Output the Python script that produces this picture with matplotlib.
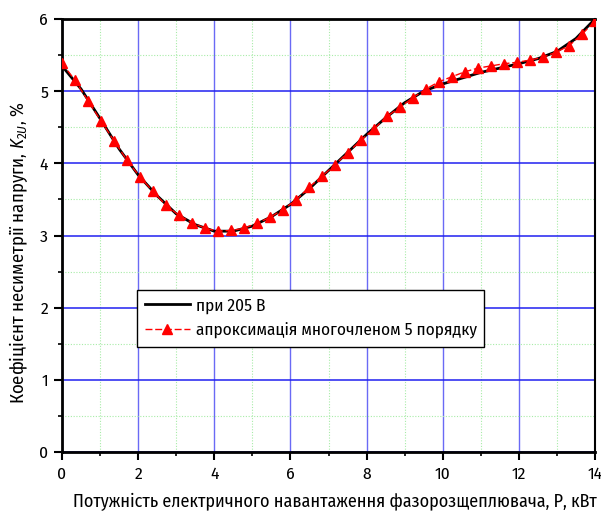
import matplotlib
matplotlib.use("Agg")
import matplotlib.pyplot as plt
from matplotlib.ticker import MultipleLocator

# Measured curve at 205 V
p_meas = [0.0, 0.5, 1.0, 1.5, 2.0, 2.5, 3.0, 3.5, 4.0, 4.5, 5.0, 5.5, 6.0, 6.5,
          7.0, 7.5, 8.0, 8.5, 9.0, 9.5, 10.0, 10.5, 11.0, 11.5, 12.0, 12.5,
          13.0, 13.5, 14.0]
k_meas = [5.35, 5.03, 4.62, 4.20, 3.84, 3.55, 3.30, 3.15, 3.06, 3.06, 3.13,
          3.26, 3.43, 3.65, 3.90, 4.15, 4.40, 4.63, 4.84, 5.00, 5.10, 5.18,
          5.26, 5.32, 5.38, 5.45, 5.55, 5.73, 6.00]

# 5th-order polynomial approximation, sampled points
p_fit = [0.00, 0.34, 0.68, 1.02, 1.37, 1.71, 2.05, 2.39, 2.73, 3.07, 3.41,
         3.76, 4.10, 4.44, 4.78, 5.12, 5.46, 5.80, 6.15, 6.49, 6.83, 7.17,
         7.51, 7.85, 8.20, 8.54, 8.88, 9.22, 9.56, 9.90, 10.24, 10.59,
         10.93, 11.27, 11.61, 11.95, 12.29, 12.63, 12.98, 13.32, 13.66, 14.00]
k_fit = [5.39, 5.15, 4.87, 4.59, 4.31, 4.04, 3.81, 3.61, 3.42, 3.28, 3.18,
         3.10, 3.06, 3.07, 3.10, 3.17, 3.25, 3.36, 3.49, 3.67, 3.82, 3.98,
         4.15, 4.32, 4.48, 4.65, 4.78, 4.91, 5.03, 5.13, 5.20, 5.27, 5.32,
         5.35, 5.38, 5.40, 5.43, 5.47, 5.54, 5.63, 5.79, 5.97]

x_ticks = [0, 2, 4, 6, 8, 10, 12, 14]
y_ticks = [0, 1, 2, 3, 4, 5, 6]

FONT = 'Fira Sans Condensed'
plt.rcParams['font.family'] = [FONT, 'Liberation Sans', 'DejaVu Sans']
plt.rcParams['mathtext.fontset'] = 'custom'
plt.rcParams['mathtext.rm'] = FONT
plt.rcParams['mathtext.it'] = FONT + ':italic'

fig = plt.figure(figsize=(6.01, 5.17), dpi=100)
ax = fig.add_axes([62 / 601, 1 - 452 / 517, 533 / 601, 433 / 517])

ax.set_xlim(0, 14)
ax.set_ylim(0, 6)
ax.set_xticks(x_ticks)
ax.set_yticks(y_ticks)
ax.xaxis.set_minor_locator(MultipleLocator(1))
ax.yaxis.set_minor_locator(MultipleLocator(0.5))

ax.grid(which='minor', color='#a8eca8', linestyle=(0, (1, 1.5)), linewidth=0.8, zorder=0)
ax.grid(which='major', axis='x', color='#6a6af5', linestyle='-', linewidth=1.0, zorder=0)
ax.grid(which='major', axis='y', color='#2020f0', linestyle='-', linewidth=1.1, zorder=0)

ax.plot(p_meas, k_meas, color='black', linewidth=2.0, zorder=3, label='при 205 В')
ax.plot(p_fit, k_fit, color='red', linewidth=1.0, linestyle=(0, (5, 2)),
        marker='^', markersize=7.5, markerfacecolor='red', markeredgecolor='red',
        zorder=4, label='апроксимація многочленом 5 порядку')

for side in ['left', 'bottom', 'top']:
    ax.spines[side].set_linewidth(2.0)
ax.spines['right'].set_linewidth(1.5)

ax.tick_params(which='major', direction='out', length=6, width=1.5,
               labelsize=12.5, top=False, right=False, pad=4)
ax.tick_params(which='minor', direction='out', length=3, width=1.2,
               top=False, right=False)

ax.set_xlabel('Потужність електричного навантаження фазорозщеплювача, Р, кВт',
              fontsize=13, va='center')
ax.xaxis.set_label_coords((335 - 62) / 533, (452 - 502) / 433)
ax.set_ylabel('Коефіцієнт несиметрії напруги, $K_{2U}$, %', fontsize=13.5, va='center')
ax.yaxis.set_label_coords((19 - 62) / 533, (452 - 253) / 433)

leg = ax.legend(loc='upper left', bbox_to_anchor=(75 / 533, (452 - 290) / 433),
                frameon=True, fancybox=False, shadow=False, fontsize=12.4,
                handlelength=2.6, borderpad=0.45, labelspacing=0.5,
                handletextpad=0.35, borderaxespad=0)
leg.get_frame().set_edgecolor('black')
leg.get_frame().set_linewidth(1.0)
leg.get_frame().set_alpha(1.0)

fig.savefig('out.png', dpi=100)
